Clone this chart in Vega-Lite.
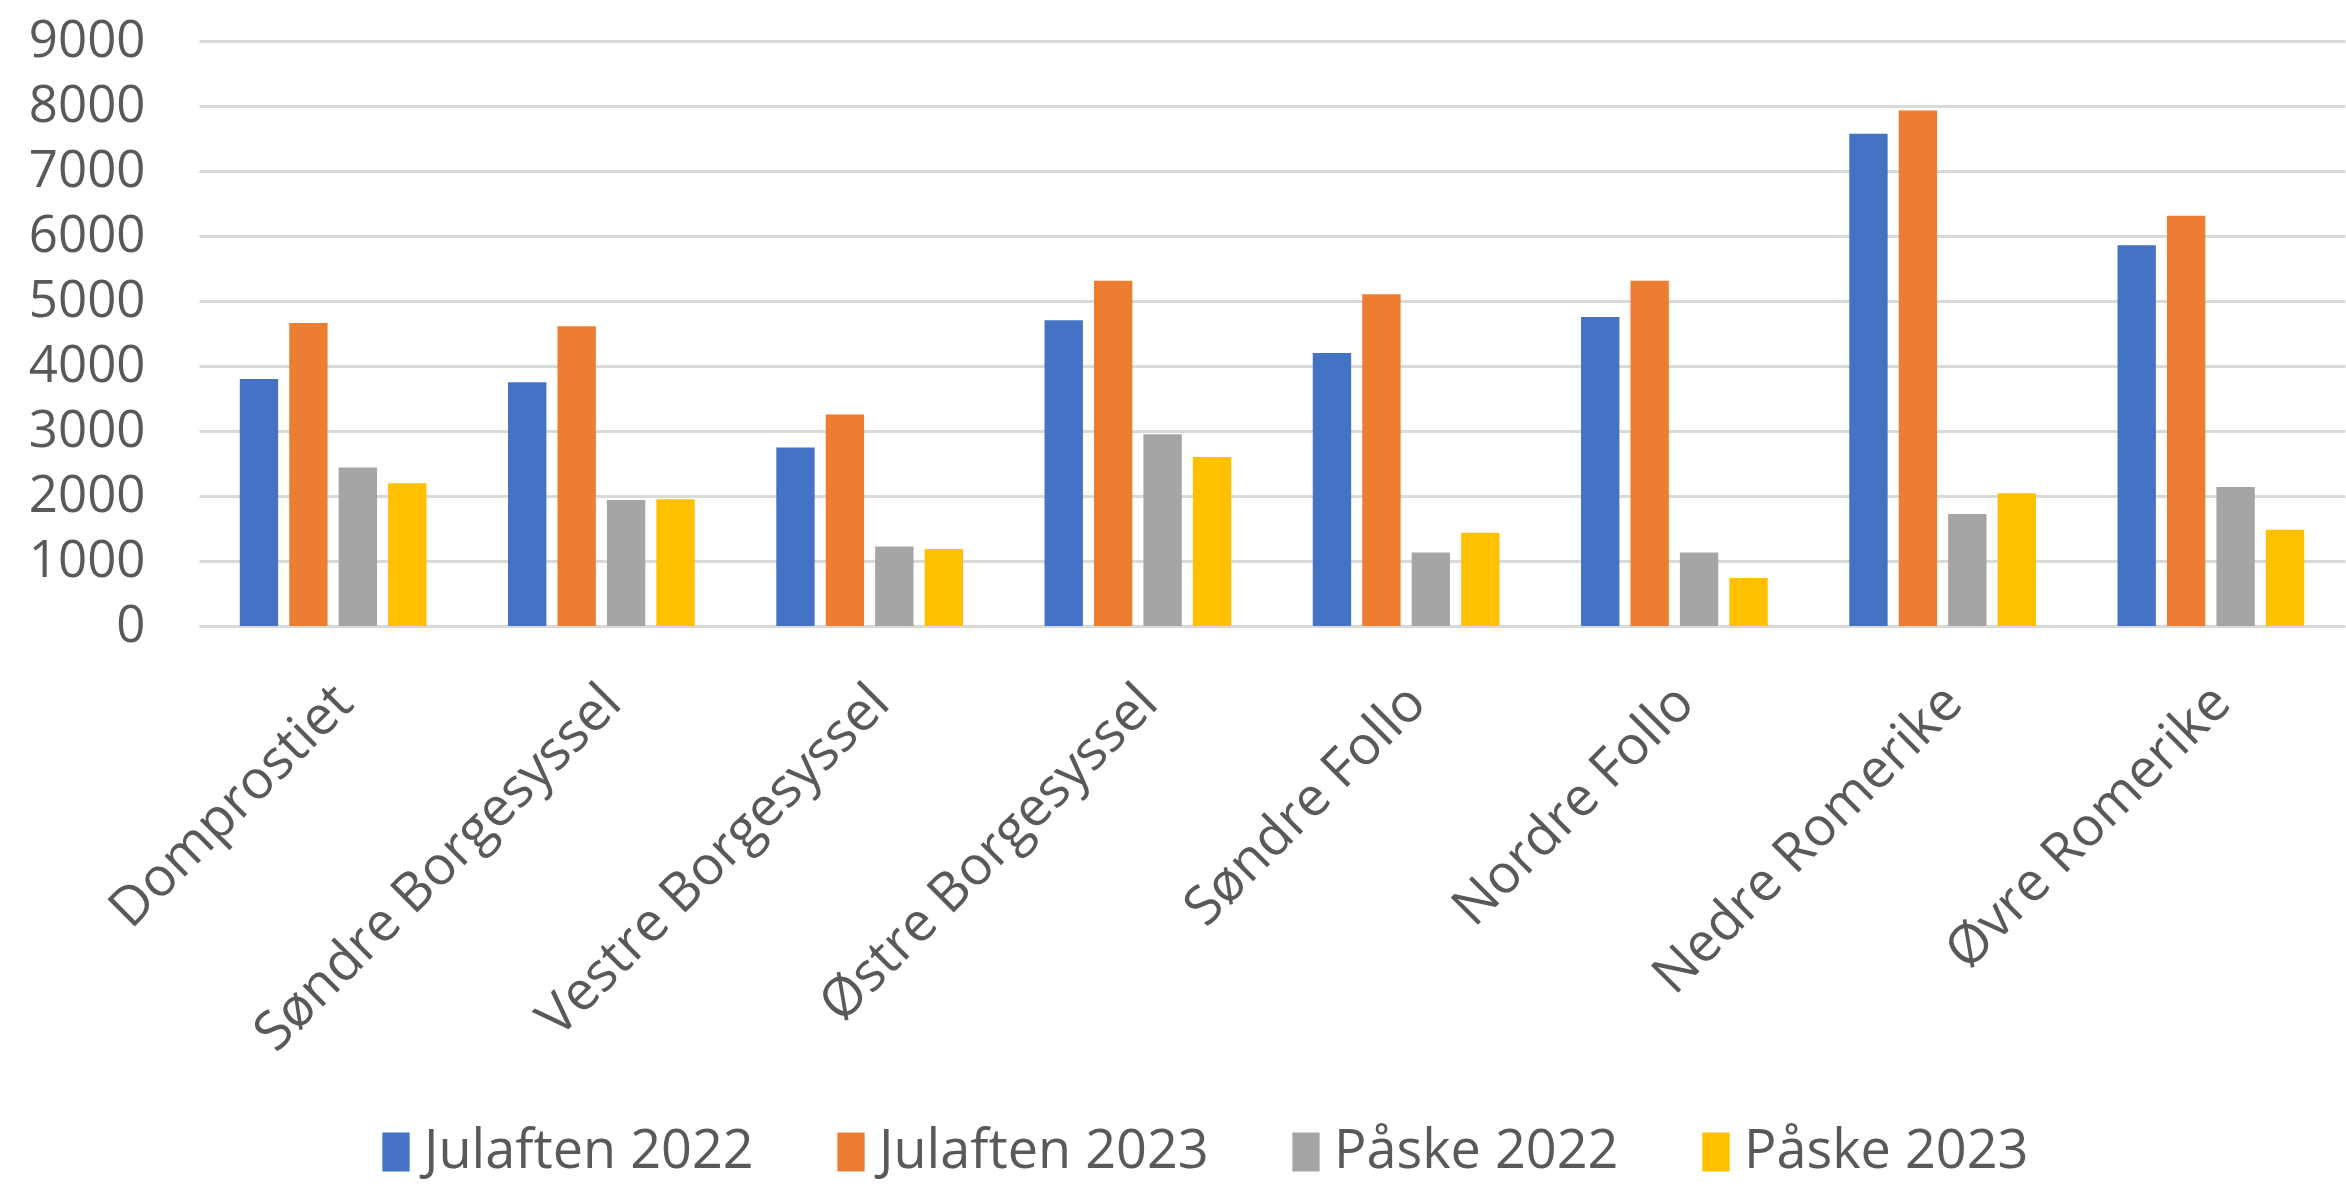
{
  "$schema": "https://vega.github.io/schema/vega-lite/v6.json",
  "autosize": {"type": "none"},
  "width": 2146,
  "height": 585,
  "padding": {"left": 199, "top": 41, "right": 1, "bottom": 560},
  "background": "white",
  "data": {
    "values": [
      {"region": "Domprostiet", "serie": "Julaften 2022", "antall": 3800},
      {"region": "Domprostiet", "serie": "Julaften 2023", "antall": 4660},
      {"region": "Domprostiet", "serie": "Påske 2022", "antall": 2440},
      {"region": "Domprostiet", "serie": "Påske 2023", "antall": 2195},
      {"region": "Søndre Borgesyssel", "serie": "Julaften 2022", "antall": 3750},
      {"region": "Søndre Borgesyssel", "serie": "Julaften 2023", "antall": 4610},
      {"region": "Søndre Borgesyssel", "serie": "Påske 2022", "antall": 1940},
      {"region": "Søndre Borgesyssel", "serie": "Påske 2023", "antall": 1950},
      {"region": "Vestre Borgesyssel", "serie": "Julaften 2022", "antall": 2745},
      {"region": "Vestre Borgesyssel", "serie": "Julaften 2023", "antall": 3255},
      {"region": "Vestre Borgesyssel", "serie": "Påske 2022", "antall": 1225},
      {"region": "Vestre Borgesyssel", "serie": "Påske 2023", "antall": 1185},
      {"region": "Østre Borgesyssel", "serie": "Julaften 2022", "antall": 4705},
      {"region": "Østre Borgesyssel", "serie": "Julaften 2023", "antall": 5310},
      {"region": "Østre Borgesyssel", "serie": "Påske 2022", "antall": 2950},
      {"region": "Østre Borgesyssel", "serie": "Påske 2023", "antall": 2600},
      {"region": "Søndre Follo", "serie": "Julaften 2022", "antall": 4200},
      {"region": "Søndre Follo", "serie": "Julaften 2023", "antall": 5105},
      {"region": "Søndre Follo", "serie": "Påske 2022", "antall": 1130},
      {"region": "Søndre Follo", "serie": "Påske 2023", "antall": 1435},
      {"region": "Nordre Follo", "serie": "Julaften 2022", "antall": 4755},
      {"region": "Nordre Follo", "serie": "Julaften 2023", "antall": 5310},
      {"region": "Nordre Follo", "serie": "Påske 2022", "antall": 1130},
      {"region": "Nordre Follo", "serie": "Påske 2023", "antall": 740},
      {"region": "Nedre Romerike", "serie": "Julaften 2022", "antall": 7575},
      {"region": "Nedre Romerike", "serie": "Julaften 2023", "antall": 7930},
      {"region": "Nedre Romerike", "serie": "Påske 2022", "antall": 1723},
      {"region": "Nedre Romerike", "serie": "Påske 2023", "antall": 2042},
      {"region": "Øvre Romerike", "serie": "Julaften 2022", "antall": 5858},
      {"region": "Øvre Romerike", "serie": "Julaften 2023", "antall": 6311},
      {"region": "Øvre Romerike", "serie": "Påske 2022", "antall": 2138},
      {"region": "Øvre Romerike", "serie": "Påske 2023", "antall": 1480}
    ]
  },
  "mark": {"type": "bar"},
  "encoding": {
    "x": {
      "field": "region",
      "type": "nominal",
      "sort": null,
      "scale": {"paddingInner": 0.304, "paddingOuter": 0.152},
      "axis": {
        "title": null,
        "labelAngle": -45,
        "labelAlign": "right",
        "labelBaseline": "top",
        "labelPadding": 49,
        "labelOffset": -8,
        "labelFont": "Open Sans",
        "labelFontSize": 54,
        "labelColor": "#595959",
        "labelLimit": 1000,
        "ticks": false,
        "domain": true,
        "domainColor": "#d9d9d9",
        "domainWidth": 3,
        "grid": false
      }
    },
    "xOffset": {
      "field": "serie",
      "type": "nominal",
      "sort": ["Julaften 2022", "Julaften 2023", "Påske 2022", "Påske 2023"],
      "scale": {"paddingInner": 0.224, "paddingOuter": 0}
    },
    "y": {
      "field": "antall",
      "type": "quantitative",
      "scale": {"domain": [0, 9000], "nice": false},
      "axis": {
        "title": null,
        "values": [0, 1000, 2000, 3000, 4000, 5000, 6000, 7000, 8000, 9000],
        "format": "d",
        "labelFont": "Open Sans",
        "labelFontSize": 51,
        "labelColor": "#595959",
        "labelPadding": 54,
        "ticks": false,
        "domain": false,
        "grid": true,
        "gridColor": "#d9d9d9",
        "gridWidth": 3
      }
    },
    "color": {
      "field": "serie",
      "type": "nominal",
      "sort": ["Julaften 2022", "Julaften 2023", "Påske 2022", "Påske 2023"],
      "scale": {
        "domain": ["Julaften 2022", "Julaften 2023", "Påske 2022", "Påske 2023"],
        "range": ["#4472C4", "#ED7D31", "#A5A5A5", "#FFC000"]
      },
      "legend": {
        "title": null,
        "orient": "none",
        "direction": "horizontal",
        "legendX": 170,
        "legendY": 1084,
        "padding": 0,
        "symbolType": "M-0.7,-1H0.7V1H-0.7Z",
        "symbolSize": 1521,
        "symbolStrokeWidth": 0,
        "labelFont": "Open Sans",
        "labelFontSize": 54,
        "labelColor": "#595959",
        "labelOffset": 1,
        "labelLimit": 1000,
        "columnPadding": 70
      }
    }
  },
  "config": {
    "view": {"stroke": null},
    "axis": {"labelFont": "Open Sans"}
  }
}
